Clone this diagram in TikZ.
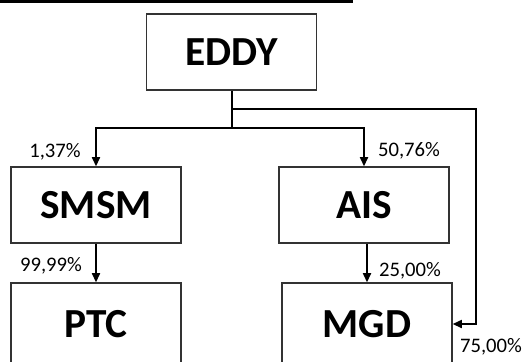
\documentclass[tikz,border=0pt]{standalone}
\usepackage{fontspec}
\setmainfont{Carlito}
\usetikzlibrary{arrows.meta,positioning,calc}

\begin{document}
\begin{tikzpicture}[x=0.75pt, y=-0.75pt,
    box/.style={rectangle, draw=black!80, line width=0.9pt, minimum width=127.5pt, minimum height=57pt, align=center, font=\fontsize{31}{34}\selectfont\bfseries, inner sep=0pt},
    lowbox/.style={box, minimum height=61.5pt},
    arrow/.style={-{Triangle[length=7pt,width=6pt]}, line width=1.5pt},
    link/.style={line width=1.5pt},
    pct/.style={font=\fontsize{15.5}{17}\selectfont, inner sep=0pt}
]
\useasboundingbox (0,0) rectangle (530,361);
\clip (0,0) rectangle (530,361);

% top rule of the cropped page
\fill[black] (0,0) rectangle (353,3);

% boxes
\node[box] (eddy) at (231.5,52) {EDDY};
\node[box] (smsm) at (96,205) {SMSM};
\node[box] (ais) at (364,205) {AIS};
\node[lowbox] (ptc) at (96,324) {PTC};
\node[lowbox] (mgd) at (367,324) {MGD};

% junctions
\coordinate (split) at (eddy.south |- 0,128);
\coordinate (side) at (eddy.south |- 0,109);
\coordinate (edge) at (476,109);

% connectors
\draw[link] (eddy.south) -- (split);
\draw[arrow] (split) -| (smsm.north);
\draw[arrow] (split) -| (ais.north);
\draw[arrow] (side) -- (edge) |- (mgd.east);
\draw[arrow] (smsm.south) -- (ptc.north);
\draw[arrow] (ais.south -| mgd.north) -- (mgd.north);

% shares
\node[pct] (p_smsm) at (55,152) {1,37\%};
\node[pct] (p_ais) at (409,151) {50,76\%};
\node[pct] (p_ptc) at (51,266) {99,99\%};
\node[pct] (p_mgd) at (410,271) {25,00\%};
\node[pct] (p_side) at (491,347) {75,00\%};

\end{tikzpicture}
\end{document}
